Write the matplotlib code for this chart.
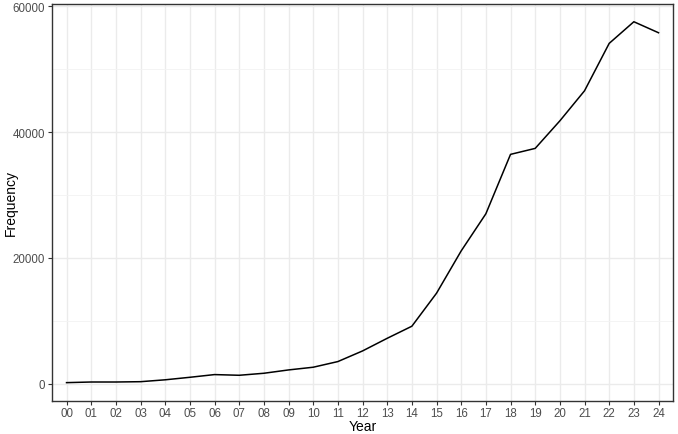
import matplotlib
matplotlib.use("Agg")
import matplotlib.pyplot as plt
from matplotlib.ticker import FixedLocator

plt.rcParams['font.family'] = ['Liberation Sans', 'DejaVu Sans']

years = ["00", "01", "02", "03", "04", "05", "06", "07", "08", "09", "10", "11",
         "12", "13", "14", "15", "16", "17", "18", "19", "20", "21", "22", "23", "24"]
frequency = [150, 250, 250, 300, 600, 1000, 1430, 1320, 1640, 2170, 2600, 3500,
             5190, 7200, 9120, 14370, 21100, 27000, 36450, 37400, 41780, 46560,
             54100, 57540, 55790]
y_ticks = [0, 20000, 40000, 60000]
y_minor = [10000, 30000, 50000]

fig = plt.figure(figsize=(6.78, 4.35), dpi=100)
ax = fig.add_axes([0.0763, 0.0766, 0.9168, 0.9126])

x = list(range(len(years)))
ax.plot(x, frequency, color="black", linewidth=1.1, zorder=3)

lo, hi = min(frequency), max(frequency)
pad = (hi - lo) * 0.05
ax.set_ylim(lo - pad, hi + pad)
ax.set_xlim(-0.6, len(years) - 1 + 0.6)

ax.set_xticks(x)
ax.set_xticklabels(years)
ax.yaxis.set_major_locator(FixedLocator(y_ticks))
ax.yaxis.set_minor_locator(FixedLocator(y_minor))

ax.grid(True, which="major", color="#EBEBEB", linewidth=1.0, zorder=0)
ax.grid(True, which="minor", axis="y", color="#F3F3F3", linewidth=0.6, zorder=0)
ax.set_axisbelow(True)

for s in ax.spines.values():
    s.set_color("#333333")
    s.set_linewidth(1.0)

ax.tick_params(axis="both", which="major", length=2.75, width=0.8, color="#333333",
               labelsize=8.3, labelcolor="#4D4D4D", pad=2)
ax.tick_params(axis="both", which="minor", length=0)

ax.set_xlabel("Year", fontsize=10, color="black", labelpad=0)
ax.set_ylabel("Frequency", fontsize=10, color="black")
ax.yaxis.set_label_coords(11 / 678, 0.5, transform=fig.transFigure)
ax.yaxis.label.set_va("center")
ax.yaxis.set_label_coords(11 / 678, (435 - 203) / 435, transform=fig.transFigure)

fig.savefig("out.png", dpi=100)
